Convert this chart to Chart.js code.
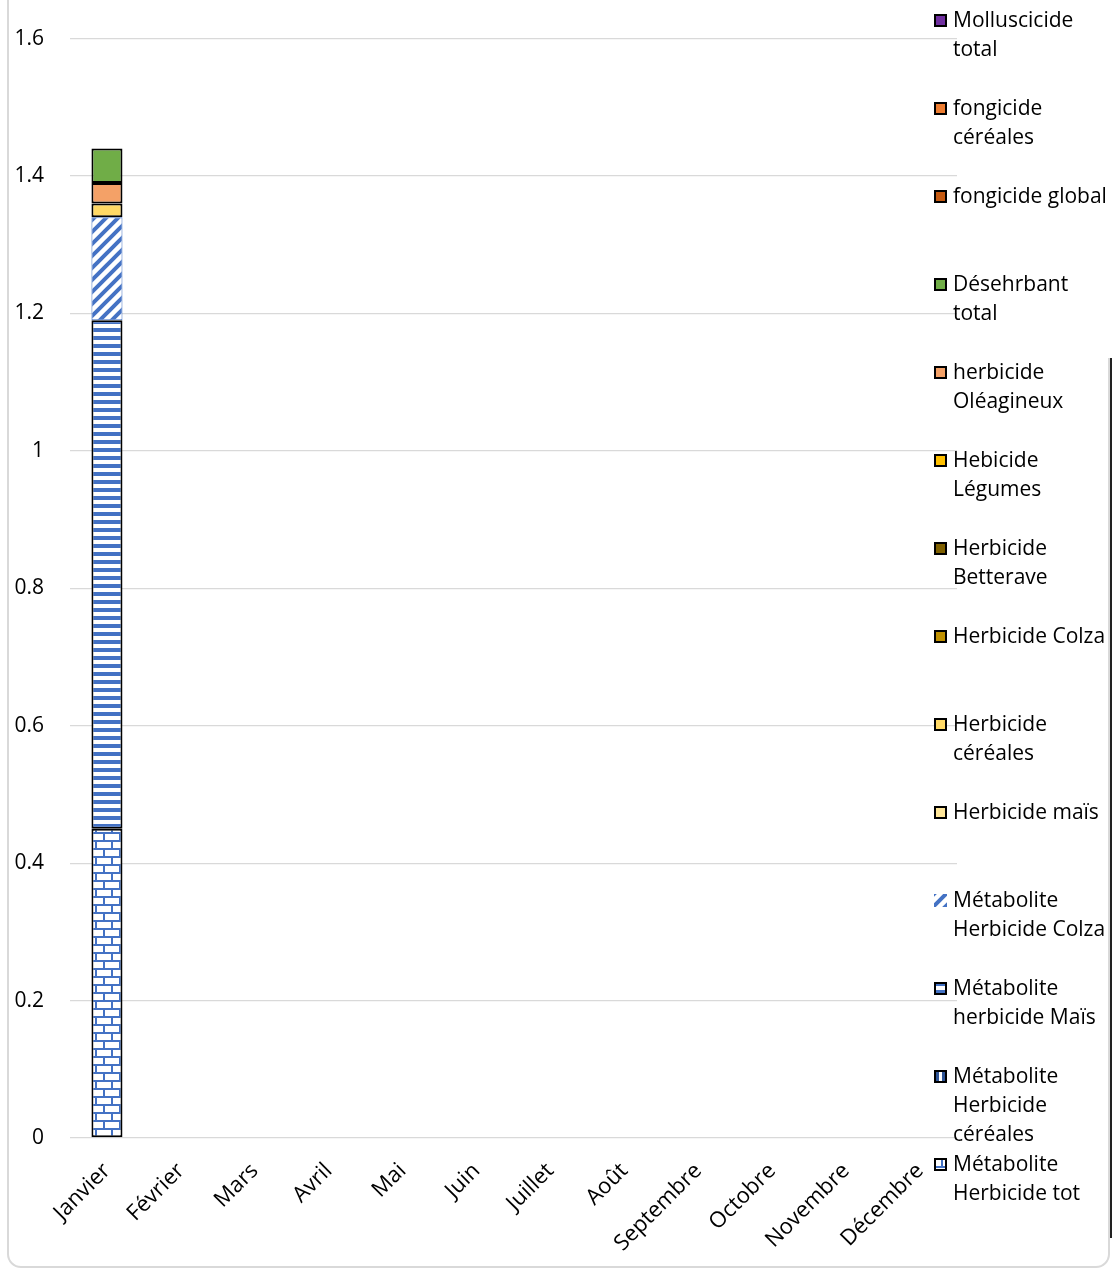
<!DOCTYPE html>
<html>
<head>
<meta charset="utf-8">
<script src="https://cdn.jsdelivr.net/npm/chart.js@4.4.1/dist/chart.umd.min.js"></script>
<style>
  html, body { margin: 0; padding: 0; background: #fff; }
  body { width: 1113px; height: 1271px; position: relative; overflow: hidden; font-family: "Open Sans", sans-serif; }
  #frame { position: absolute; left: 7px; top: -30px; width: 1103px; height: 1298px; box-sizing: border-box;
           border: 2px solid #d9d9d9; border-radius: 14px; }
  #cover { position: absolute; left: 1100px; top: 0; width: 13px; height: 358px; background: #fff; }
  #edge { position: absolute; left: 1110px; top: 358px; width: 2px; height: 880px; background: #222; }
  #myChart { position: absolute; left: 0; top: 0; }
  #legend { position: absolute; left: 934px; top: 5px; width: 180px; }
  .item { height: 88px; display: flex; align-items: flex-start; }
  .item canvas { margin-top: 9px; flex: none; }
  .item span { margin-left: 6px; width: 158px; font-size: 21px; line-height: 29px; color: #000; }
</style>
</head>
<body>
<div id="frame"></div>
<div id="cover"></div>
<div id="edge"></div>
<canvas id="myChart" width="1113" height="1271"></canvas>
<div id="legend"></div>
<script>
const months = ["Janvier", "Février", "Mars", "Avril", "Mai", "Juin", "Juillet", "Août",
  "Septembre", "Octobre", "Novembre", "Décembre"];
const yTicks = [0, 0.2, 0.4, 0.6, 0.8, 1, 1.2, 1.4, 1.6];

// series, bottom of the stack first (legend shows them top first)
const metaHerbTot   = [0.45, null, null, null, null, null, null, null, null, null, null, null];
const metaHerbCer   = [null, null, null, null, null, null, null, null, null, null, null, null];
const metaHerbMais  = [0.74, null, null, null, null, null, null, null, null, null, null, null];
const metaHerbColza = [0.15, null, null, null, null, null, null, null, null, null, null, null];
const herbMais      = [null, null, null, null, null, null, null, null, null, null, null, null];
const herbCereales  = [0.02, null, null, null, null, null, null, null, null, null, null, null];
const herbColza     = [null, null, null, null, null, null, null, null, null, null, null, null];
const herbBetterave = [null, null, null, null, null, null, null, null, null, null, null, null];
const herbLegumes   = [null, null, null, null, null, null, null, null, null, null, null, null];
const herbOleagin   = [0.03, null, null, null, null, null, null, null, null, null, null, null];
const desherbTotal  = [0.05, null, null, null, null, null, null, null, null, null, null, null];
const fongGlobal    = [null, null, null, null, null, null, null, null, null, null, null, null];
const fongCereales  = [null, null, null, null, null, null, null, null, null, null, null, null];
const mollTotal     = [null, null, null, null, null, null, null, null, null, null, null, null];

const BLUE = "#4472C4";

// small tiles for the hatched metabolite series
function makeTile(w, h, draw) {
  const c = document.createElement("canvas");
  c.width = w; c.height = h;
  const g = c.getContext("2d");
  g.fillStyle = "#fff";
  g.fillRect(0, 0, w, h);
  g.fillStyle = BLUE;
  g.strokeStyle = BLUE;
  draw(g);
  return c;
}

const brickTile = makeTile(16, 16, function(g) {
  g.fillRect(0, 0, 16, 2);
  g.fillRect(0, 8, 16, 2);
  g.fillRect(7, 0, 2, 8);
  g.fillRect(0, 8, 1, 8);
  g.fillRect(15, 8, 1, 8);
});
const hLineTile = makeTile(8, 8, function(g) {
  g.fillRect(0, 0, 8, 4);
});
const vLineTile = makeTile(8, 8, function(g) {
  g.fillStyle = "#2F5597";
  g.fillRect(0, 0, 5, 8);
});
const diagTile = makeTile(12, 12, function(g) {
  g.lineWidth = 4;
  g.beginPath();
  g.moveTo(-3, 15); g.lineTo(15, -3);
  g.moveTo(-9, 9); g.lineTo(3, -3);
  g.moveTo(9, 15); g.lineTo(15, 9);
  g.stroke();
});

const ctx = document.getElementById("myChart").getContext("2d");
const pat = function(tile) { return ctx.createPattern(tile, "repeat"); };

const series = [
  { label: "Métabolite Herbicide tot", data: metaHerbTot, fill: pat(brickTile), tile: brickTile, border: "#000" },
  { label: "Métabolite Herbicide céréales", data: metaHerbCer, fill: pat(vLineTile), tile: vLineTile, border: "#000" },
  { label: "Métabolite herbicide Maïs", data: metaHerbMais, fill: pat(hLineTile), tile: hLineTile, border: "#000" },
  { label: "Métabolite Herbicide Colza", data: metaHerbColza, fill: pat(diagTile), tile: diagTile, border: BLUE },
  { label: "Herbicide maïs", data: herbMais, fill: "#FFE699", border: "#000" },
  { label: "Herbicide céréales", data: herbCereales, fill: "#FFD966", border: "#000" },
  { label: "Herbicide Colza", data: herbColza, fill: "#BF9000", border: "#000" },
  { label: "Herbicide Betterave", data: herbBetterave, fill: "#7F6000", border: "#000" },
  { label: "Hebicide Légumes", data: herbLegumes, fill: "#FFC000", border: "#000" },
  { label: "herbicide Oléagineux", data: herbOleagin, fill: "#F4A167", border: "#000" },
  { label: "Désehrbant total", data: desherbTotal, fill: "#70AD47", border: "#000" },
  { label: "fongicide global", data: fongGlobal, fill: "#C55A11", border: "#000" },
  { label: "fongicide céréales", data: fongCereales, fill: "#ED7D31", border: "#000" },
  { label: "Molluscicide total", data: mollTotal, fill: "#7030A0", border: "#000" }
];

new Chart(ctx, {
  type: "bar",
  data: {
    labels: months,
    datasets: series.map(function(s) {
      return {
        label: s.label,
        data: s.data,
        backgroundColor: s.fill,
        borderColor: s.border,
        borderWidth: s.border === BLUE ? 1 : 2,
        borderSkipped: false,
        categoryPercentage: 1,
        barPercentage: 0.42
      };
    })
  },
  options: {
    responsive: false,
    animation: false,
    layout: { padding: { top: 36, right: 156, bottom: 0, left: 0 } },
    plugins: { legend: { display: false }, tooltip: { enabled: false } },
    scales: {
      x: {
        stacked: true,
        grid: { display: false },
        border: { display: false },
        ticks: { color: "#000", font: { family: "Open Sans", size: 22 }, minRotation: 45, maxRotation: 45, padding: 12 },
        afterFit: function(scale) { scale.height = 133; }
      },
      y: {
        stacked: true,
        min: 0,
        max: 1.6,
        afterBuildTicks: function(scale) { scale.ticks = yTicks.map(function(v) { return { value: v }; }); },
        grid: { color: "#d9d9d9", lineWidth: 1.3, drawTicks: false },
        border: { display: false },
        ticks: {
          color: "#000",
          font: { family: "Open Sans", size: 21 },
          padding: 26,
          callback: function(v) { return String(Math.round(v * 10) / 10); }
        },
        afterFit: function(scale) { scale.width = 70; }
      }
    }
  }
});

// legend, same order as the Excel one (top of the stack first)
const legend = document.getElementById("legend");
series.slice().reverse().forEach(function(s) {
  const item = document.createElement("div");
  item.className = "item";
  const sw = document.createElement("canvas");
  sw.width = 13; sw.height = 13;
  const g = sw.getContext("2d");
  g.fillStyle = s.tile ? g.createPattern(s.tile, "repeat") : s.fill;
  g.fillRect(0, 0, 13, 13);
  if (s.border !== BLUE) {
    g.strokeStyle = "#000";
    g.lineWidth = 2;
    g.strokeRect(1, 1, 11, 11);
  }
  const txt = document.createElement("span");
  txt.textContent = s.label;
  item.appendChild(sw);
  item.appendChild(txt);
  legend.appendChild(item);
});
</script>
</body>
</html>
